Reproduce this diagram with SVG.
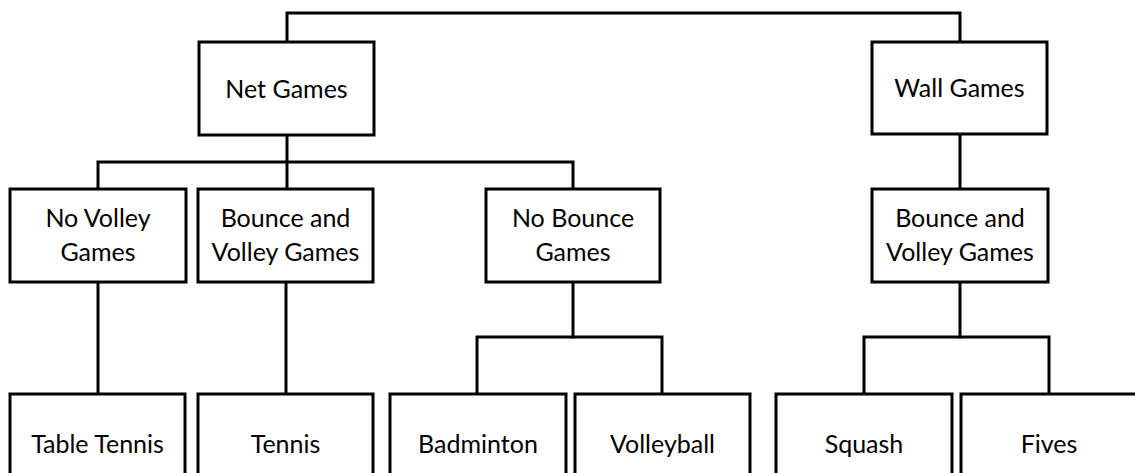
<svg xmlns="http://www.w3.org/2000/svg" width="1135" height="473" viewBox="0 0 1135 473">
  <style>
    .box { fill: #ffffff; stroke: #000000; stroke-width: 3; }
    .lbl { font-family: Lato, "Open Sans", "Liberation Sans", sans-serif; font-size: 25px; fill: #000000; text-anchor: middle; }
    .wire { fill: none; stroke: #000000; stroke-width: 3; stroke-linejoin: miter; stroke-linecap: square; }
  </style>
  <rect width="1135" height="473" fill="#ffffff"/>

  <!-- connectors -->
  <g id="connectors" class="wire">
    <path d="M287 42 V13 H960 V42"/>
    <path d="M287 135 V189"/>
    <path d="M98 189 V162 H573 V189"/>
    <path d="M960 134 V189"/>
    <path d="M98 282 V394"/>
    <path d="M286 282 V394"/>
    <path d="M573 282 V337"/>
    <path d="M477 394 V337 H662 V394"/>
    <path d="M960 282 V337"/>
    <path d="M864 394 V337 H1049 V394"/>
  </g>

  <!-- level 1 -->
  <g id="net-games">
    <rect class="box" x="199" y="42" width="175" height="93"/>
    <text class="lbl" x="286.5" y="98">Net Games</text>
  </g>
  <g id="wall-games">
    <rect class="box" x="872" y="42" width="175" height="92"/>
    <text class="lbl" x="959.5" y="97">Wall Games</text>
  </g>

  <!-- level 2 -->
  <g id="no-volley-games">
    <rect class="box" x="10" y="189" width="176" height="93"/>
    <text class="lbl" x="98" y="227">No Volley</text>
    <text class="lbl" x="98" y="261">Games</text>
  </g>
  <g id="net-bounce-volley-games">
    <rect class="box" x="198" y="189" width="175" height="93"/>
    <text class="lbl" x="285.5" y="227">Bounce and</text>
    <text class="lbl" x="285.5" y="261">Volley Games</text>
  </g>
  <g id="no-bounce-games">
    <rect class="box" x="486" y="189" width="174" height="93"/>
    <text class="lbl" x="573" y="227">No Bounce</text>
    <text class="lbl" x="573" y="261">Games</text>
  </g>
  <g id="wall-bounce-volley-games">
    <rect class="box" x="872" y="189" width="176" height="93"/>
    <text class="lbl" x="960" y="227">Bounce and</text>
    <text class="lbl" x="960" y="261">Volley Games</text>
  </g>

  <!-- level 3 -->
  <g id="table-tennis">
    <rect class="box" x="10" y="394" width="175" height="100"/>
    <text class="lbl" x="97.5" y="453">Table Tennis</text>
  </g>
  <g id="tennis">
    <rect class="box" x="198" y="394" width="175" height="100"/>
    <text class="lbl" x="285.5" y="453">Tennis</text>
  </g>
  <g id="badminton">
    <rect class="box" x="390" y="394" width="176" height="100"/>
    <text class="lbl" x="478" y="453">Badminton</text>
  </g>
  <g id="volleyball">
    <rect class="box" x="575" y="394" width="175" height="100"/>
    <text class="lbl" x="662.5" y="453">Volleyball</text>
  </g>
  <g id="squash">
    <rect class="box" x="776" y="394" width="176" height="100"/>
    <text class="lbl" x="864" y="453">Squash</text>
  </g>
  <g id="fives">
    <rect class="box" x="961" y="394" width="176" height="100"/>
    <text class="lbl" x="1049" y="453">Fives</text>
  </g>
</svg>
